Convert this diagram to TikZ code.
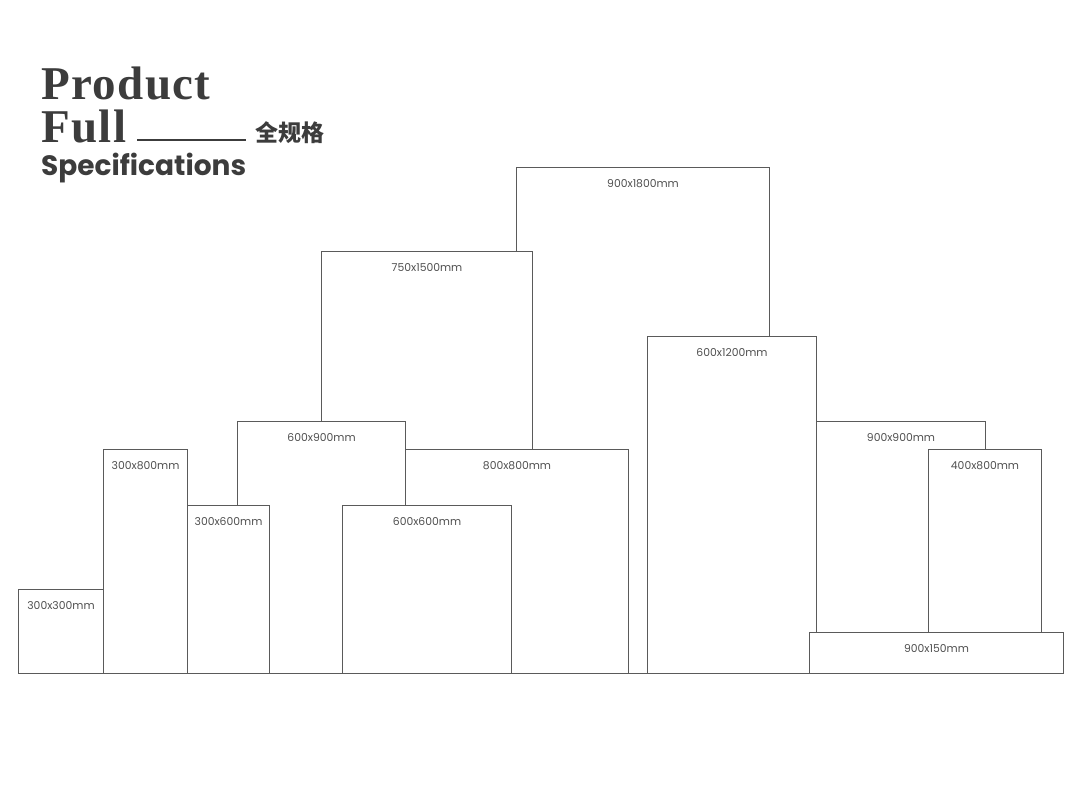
\documentclass[tikz,border=0pt]{standalone}
\usepackage{fontspec}
\setmainfont{Poppins}
\newfontfamily\titleserif[LetterSpace=3]{Liberation Serif}
\newfontfamily\titlesans{Poppins}
\newfontfamily\cjk{Noto Sans CJK SC}
\definecolor{linegray}{HTML}{5A5A5A}
\definecolor{textgray}{HTML}{3C3C3C}
\definecolor{labelgray}{HTML}{505050}
\tikzset{
    tile/.style={draw=linegray, fill=white, line width=1.05pt, anchor=north west, inner sep=0pt},
    size/.style={below=12pt, text=labelgray, font=\fontsize{10.8}{12}\selectfont, inner sep=0pt}
}
\begin{document}
\begin{tikzpicture}[x=1pt, y=-1pt]
    \useasboundingbox (0, 0) rectangle (1080, 797);
    % title
    \node[anchor=base west, inner sep=0pt, text=textgray, font=\titleserif\bfseries\fontsize{47}{47}\selectfont] (product) at (41, 100) {Product};
    \node[anchor=base west, inner sep=0pt, text=textgray, font=\titleserif\bfseries\fontsize{47}{47}\selectfont] (full) at (41, 143) {Full};
    \node[anchor=base west, inner sep=0pt, text=textgray, font=\titlesans\bfseries\fontsize{28}{28}\selectfont] (spec) at (41, 176) {Specifications};
    \coordinate (rulestart) at (137, 140);
    \coordinate (ruleend) at (246, 140);
    \draw[textgray, line width=1.2pt] (rulestart) -- (ruleend);
    \node[anchor=west, inner sep=0pt, text=textgray, font=\cjk\bfseries\fontsize{23}{23}\selectfont] (quan) at (255, 133) {全规格};
    % tiles, back to front
    \node[tile, minimum width=253pt, minimum height=506pt] (t900x1800) at (516, 167) {};
    \node[size] at (t900x1800.north) {900x1800mm};
    \node[tile, minimum width=211pt, minimum height=422pt] (t750x1500) at (321, 251) {};
    \node[size] at (t750x1500.north) {750x1500mm};
    \node[tile, minimum width=223pt, minimum height=224pt] (t800x800) at (405, 449) {};
    \node[size] at (t800x800.north) {800x800mm};
    \node[tile, minimum width=168pt, minimum height=252pt] (t600x900) at (237, 421) {};
    \node[size] at (t600x900.north) {600x900mm};
    \node[tile, minimum width=169pt, minimum height=168pt] (t600x600) at (342, 505) {};
    \node[size] at (t600x600.north) {600x600mm};
    \node[tile, minimum width=82pt, minimum height=168pt] (t300x600) at (187, 505) {};
    \node[size] at (t300x600.north) {300x600mm};
    \node[tile, minimum width=84pt, minimum height=224pt] (t300x800) at (103, 449) {};
    \node[size] at (t300x800.north) {300x800mm};
    \node[tile, minimum width=85pt, minimum height=84pt] (t300x300) at (18, 589) {};
    \node[size] at (t300x300.north) {300x300mm};
    \node[tile, minimum width=169pt, minimum height=337pt] (t600x1200) at (647, 336) {};
    \node[size] at (t600x1200.north) {600x1200mm};
    \node[tile, minimum width=169pt, minimum height=252pt] (t900x900) at (816, 421) {};
    \node[size] at (t900x900.north) {900x900mm};
    \node[tile, minimum width=113pt, minimum height=224pt] (t400x800) at (928, 449) {};
    \node[size] at (t400x800.north) {400x800mm};
    \node[tile, minimum width=254pt, minimum height=41pt] (t900x150) at (809, 632) {};
    \node[size] at (t900x150.north) {900x150mm};
\end{tikzpicture}
\end{document}
